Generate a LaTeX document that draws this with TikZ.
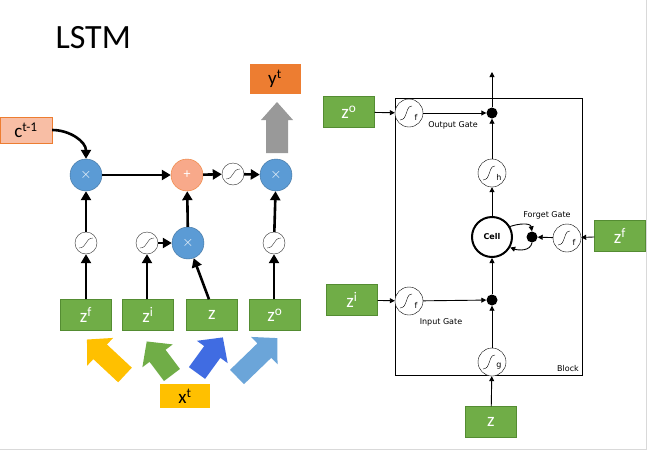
\documentclass[tikz,border=0pt]{standalone}
\usepackage{fontspec}
\setmainfont{Carlito}
\newfontfamily\dvs{DejaVu Sans}
\usetikzlibrary{arrows.meta}
\definecolor{gr}{RGB}{112,173,71}
\definecolor{grd}{RGB}{84,140,50}
\definecolor{bl}{RGB}{91,155,213}
\definecolor{bld}{RGB}{65,113,156}
\definecolor{org}{RGB}{237,125,49}
\definecolor{sal}{RGB}{248,169,138}
\definecolor{pch}{RGB}{248,190,165}
\definecolor{yel}{RGB}{255,192,0}
\begin{document}
\begin{tikzpicture}[x=1pt,y=-1pt,
  gbox/.style={draw=grd,fill=gr,text=white,minimum width=51pt,minimum height=31pt,inner sep=0,font=\fontsize{19}{20}\selectfont},
  mul/.style={circle,draw=bld,fill=bl,minimum size=32pt,inner sep=0,text=white,font=\fontsize{14}{14}\selectfont},
  sig/.style={circle,draw=black!80,fill=white,minimum size=22pt,inner sep=0,
    path picture={\draw ([shift={(-7,5)}]path picture bounding box.center) .. controls +(8,0) and +(-8,0) .. +(14,-10);}},
  sigl/.style={circle,draw=black,fill=white,minimum size=28pt,inner sep=0,
    path picture={\draw ([shift={(-9,7)}]path picture bounding box.center) .. controls +(8,0) and +(-7,0) .. +(12,-14);
      \node[font=\dvs\fontsize{8}{8}\selectfont,inner sep=0] at ([shift={(7,4)}]path picture bounding box.center) {#1};}},
  dot/.style={circle,fill=black,minimum size=11pt,inner sep=0},
  thk/.style={line width=2.6pt,-{Triangle[length=9pt,width=10pt]}},
  thn/.style={line width=0.9pt,-{Triangle[length=5pt,width=5pt]}},
  lbl/.style={font=\dvs\fontsize{8}{9}\selectfont,inner sep=0}]
\useasboundingbox (0,0) rectangle (649,453);
\fill[white] (0,0) rectangle (649,453);
\draw[black!15] (646,0) -- (646,449) -- (0,449);
\node[anchor=west,font=\fontsize{34}{34}\selectfont] (title) at (52,38) {LSTM};

% fat arrows
\newcommand{\fatarrow}[5]{\begin{scope}[shift={#1},rotate=#2]
 \fill[#4] (0,-#5) -- (#3-18,-#5) -- (#3-18,-19) -- (#3,0) -- (#3-18,19) -- (#3-18,#5) -- (0,#5) -- cycle;
 \end{scope}}
\fatarrow{(125,375)}{137}{52}{yel}{10}
\fatarrow{(172,375)}{127}{42}{gr}{10}
\fatarrow{(197,373)}{54}{44}{bl!70!blue}{10}
\fatarrow{(237,377)}{44}{56}{bl!90!white}{10}
\begin{scope}[shift={(277,153)},rotate=90]
 \fill[black!40] (0,-11) -- (33,-11) -- (33,-16) -- (51,0) -- (33,16) -- (33,11) -- (0,11) -- cycle;
\end{scope}

% left diagram
\node[draw=org,fill=pch,minimum width=52pt,minimum height=26pt,inner sep=0,font=\fontsize{19}{20}\selectfont] (c) at (26,130) {c\textsuperscript{t-1}};
\node[fill=org,minimum width=51pt,minimum height=30pt,inner sep=0,font=\fontsize{19}{20}\selectfont] (y) at (275,79) {y\textsuperscript{t}};
\node[fill=yel,minimum width=50pt,minimum height=24pt,inner sep=0,font=\fontsize{19}{20}\selectfont] (x) at (185,396) {x\textsuperscript{t}};
\node[mul] (m1) at (86,175) {$\times$};
\node[mul,draw=org,fill=sal] (p) at (187,175) {+};
\node[sig] (s3) at (233,174) {};
\node[mul] (m3) at (276,175) {$\times$};
\node[sig] (s1) at (86,243) {};
\node[sig] (s2) at (147,243) {};
\node[mul] (m2) at (188,243) {$\times$};
\node[sig] (s4) at (274,243) {};
\node[gbox] (zf) at (86,315) {z\textsuperscript{f}};
\node[gbox] (zi) at (148,315) {z\textsuperscript{i}};
\node[gbox] (z) at (212,315) {z};
\node[gbox] (zo) at (275,315) {z\textsuperscript{o}};
\draw[thk] (c.east) to[out=0,in=90] (m1.north);
\draw[thk] (m1) -- (p);
\draw[thk] (p) -- (s3);
\draw[thk] (s3) -- (m3);
\draw[thk] (zf) -- (s1);
\draw[thk] (s1) -- (m1);
\draw[thk] (zi.north -| s2) -- (s2);
\draw[thk] (s2) -- (m2);
\draw[thk] ([xshift=-3pt]z.north) -- (m2);
\draw[thk] (m2) -- (p);
\draw[thk] (zo.north -| s4) -- (s4);
\draw[thk] (s4) -- (m3);

% right diagram
\draw[line width=1pt] (395,98) rectangle (582,375);
\node[lbl,anchor=south east] (blk) at (579,372) {Block};
\node[gbox] (Zo) at (349,112) {z\textsuperscript{o}};
\node[gbox] (Zi) at (352,300) {z\textsuperscript{i}};
\node[gbox] (Zf) at (620,236) {z\textsuperscript{f}};
\node[gbox] (Z) at (491,422) {z};
\node[sigl=f] (of) at (409,113) {};
\node[sigl=f] (if) at (409,301) {};
\node[sigl=f] (ff) at (567,238) {};
\node[sigl=h] (hs) at (492,173) {};
\node[sigl=g] (gs) at (492,362) {};
\node[dot] (od) at (492,113) {};
\node[dot] (id) at (492,300) {};
\node[dot] (fd) at (532,237) {};
\node[circle,draw,line width=2pt,minimum size=40pt,inner sep=0,font=\dvs\bfseries\fontsize{8}{8}\selectfont] (cell) at (492,237) {Cell};
\coordinate (top) at (492,72);
\node[lbl] (og) at (453,125) {Output Gate};
\node[lbl] (ig) at (441,322) {Input Gate};
\node[lbl] (fg) at (547,215) {Forget Gate};
\draw[thn] (Zo) -- (of);
\draw[thn] (of) -- (od);
\draw[thn] (od) -- (top);
\draw[thn] (hs) -- (od);
\draw[thn] (cell) -- (hs);
\draw[thn] (id) -- (cell);
\draw[thn] (gs) -- (id);
\draw[thn] (Z) -- (gs);
\draw[thn] (Zi) -- (if);
\draw[thn] (if) -- (id);
\draw[thn] (Zf) -- (ff);
\draw[thn] (ff) -- (fd);
\draw[thn] (cell.30) to[out=20,in=100] (fd.north);
\draw[thn] (fd.south) to[out=-100,in=-20] (cell.-30);
\end{tikzpicture}
\end{document}
